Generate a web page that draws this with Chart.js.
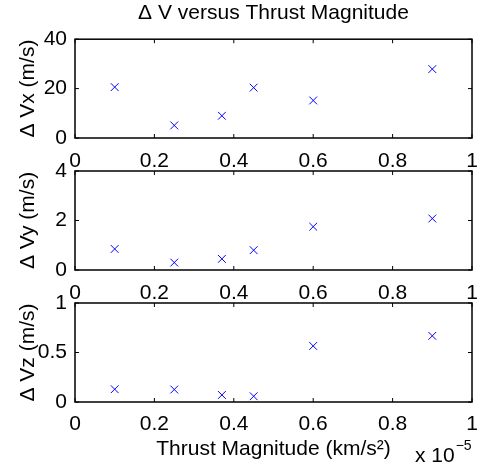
<!DOCTYPE html>
<html>
<head>
<meta charset="utf-8">
<script src="https://cdn.jsdelivr.net/npm/chart.js@4"></script>
<style>
  body { margin: 0; background: #fff; }
  #wrap { position: relative; width: 479px; height: 472px; }
  #wrap canvas { position: absolute; left: 0; top: 0; }
</style>
</head>
<body>
<div id="wrap">
  <canvas id="cx" width="479" height="472"></canvas>
  <canvas id="cy" width="479" height="472"></canvas>
  <canvas id="cz" width="479" height="472"></canvas>
</div>
<script>
// data, thrust in units of 1e-5 km/s^2
const thrust = [0.1, 0.25, 0.37, 0.45, 0.6, 0.9];
const dVx = [20.6, 5.1, 9.0, 20.4, 15.2, 27.9];
const dVy = [0.85, 0.3, 0.45, 0.8, 1.75, 2.08];
const dVz = [0.129, 0.126, 0.071, 0.058, 0.566, 0.668];

// tick labels
const xTicks = ['0', '0.2', '0.4', '0.6', '0.8', '1'];
const yTicksX = ['0', '20', '40'];
const yTicksY = ['0', '2', '4'];
const yTicksZ = ['0', '0.5', '1'];

const titleText = '\u0394 V versus Thrust Magnitude';
const xTitle = 'Thrust Magnitude (km/s\u00B2)';

const FONT = "'Liberation Sans', Arial, sans-serif";
Chart.defaults.font.family = FONT;
Chart.defaults.font.size = 21;
Chart.defaults.color = '#000';
Chart.defaults.animation = false;

// MATLAB style box with ticks pointing inward
const boxTicks = {
  id: 'boxTicks',
  afterDraw(chart) {
    const { ctx, chartArea: a, scales: { x, y } } = chart;
    ctx.save();
    ctx.strokeStyle = '#000';
    ctx.lineWidth = 1;
    ctx.beginPath();
    x.ticks.forEach(t => {
      const px = x.getPixelForValue(t.value);
      ctx.moveTo(px, a.bottom); ctx.lineTo(px, a.bottom - 4);
      ctx.moveTo(px, a.top); ctx.lineTo(px, a.top + 4);
    });
    y.ticks.forEach(t => {
      const py = y.getPixelForValue(t.value);
      ctx.moveTo(a.left, py); ctx.lineTo(a.left + 4, py);
      ctx.moveTo(a.right, py); ctx.lineTo(a.right - 4, py);
    });
    ctx.stroke();
    ctx.lineWidth = 1.5;
    ctx.strokeRect(a.left, a.top, a.right - a.left, a.bottom - a.top);
    ctx.restore();
  }
};

// "x 10^-5" exponent label under the last axis
const expLabel = {
  id: 'expLabel',
  afterDraw(chart) {
    const { ctx, chartArea: a } = chart;
    ctx.save();
    ctx.fillStyle = '#000';
    ctx.textBaseline = 'alphabetic';
    ctx.textAlign = 'left';
    ctx.font = '21px ' + FONT;
    const x0 = a.right - 57;
    ctx.fillText('x 10', x0, a.bottom + 59.5);
    const w = ctx.measureText('x 10').width;
    ctx.font = '14px ' + FONT;
    ctx.fillText('\u22125', x0 + w + 1, a.bottom + 48);
    ctx.restore();
  }
};

function makeChart(id, values, yLabels, yMax, yTitle, opts) {
  const ctx = document.getElementById(id).getContext('2d');
  return new Chart(ctx, {
    type: 'scatter',
    data: {
      datasets: [{
        data: thrust.map((t, i) => ({ x: t, y: values[i] })),
        pointStyle: 'crossRot',
        pointRadius: 5.5,
        pointBorderWidth: 1,
        borderColor: '#0000ff',
        backgroundColor: '#0000ff'
      }]
    },
    options: {
      responsive: false,
      devicePixelRatio: 1,
      layout: { padding: { left: 0, right: 7, top: opts.padTop, bottom: 0 } },
      plugins: {
        legend: { display: false },
        tooltip: { enabled: false },
        title: opts.title ? {
          display: true,
          text: titleText,
          fullSize: false,
          font: { size: 21, weight: 'normal' },
          padding: { top: 1, bottom: 13 }
        } : { display: false }
      },
      scales: {
        x: {
          type: 'linear',
          min: 0, max: 1,
          grid: { display: false, drawTicks: false },
          border: { display: false },
          ticks: {
            stepSize: 0.2,
            padding: opts.xPad,
            maxRotation: 0,
            autoSkip: false,
            callback: (v, i) => xTicks[i]
          },
          title: opts.xTitle ? {
            display: true,
            text: xTitle,
            padding: { top: 0, bottom: 10 }
          } : { display: false },
          afterFit: s => {
            s.height = opts.xHeight;
            s.paddingLeft = 0; s.paddingRight = 0;
          }
        },
        y: {
          min: 0, max: yMax,
          grid: { display: false, drawTicks: false },
          border: { display: false },
          ticks: {
            stepSize: yMax / 2,
            padding: 8,
            callback: (v, i) => yLabels[i]
          },
          title: {
            display: true,
            text: yTitle,
            padding: { top: 16, bottom: 0 }
          },
          afterFit: s => {
            s.width = 75;
            s.paddingTop = 0; s.paddingBottom = 0;
          }
        }
      }
    },
    plugins: opts.exp ? [boxTicks, expLabel] : [boxTicks]
  });
}

makeChart('cx', dVx, yTicksX, 40, '\u0394 Vx (m/s)', { padTop: 0, title: true, xHeight: 334, xPad: 11 });
makeChart('cy', dVy, yTicksY, 4, '\u0394 Vy (m/s)', { padTop: 171, xHeight: 202, xPad: 11 });
makeChart('cz', dVz, yTicksZ, 1, '\u0394 Vz (m/s)', { padTop: 303, xHeight: 70, xTitle: true, exp: true, xPad: 10 });
</script>
</body>
</html>
